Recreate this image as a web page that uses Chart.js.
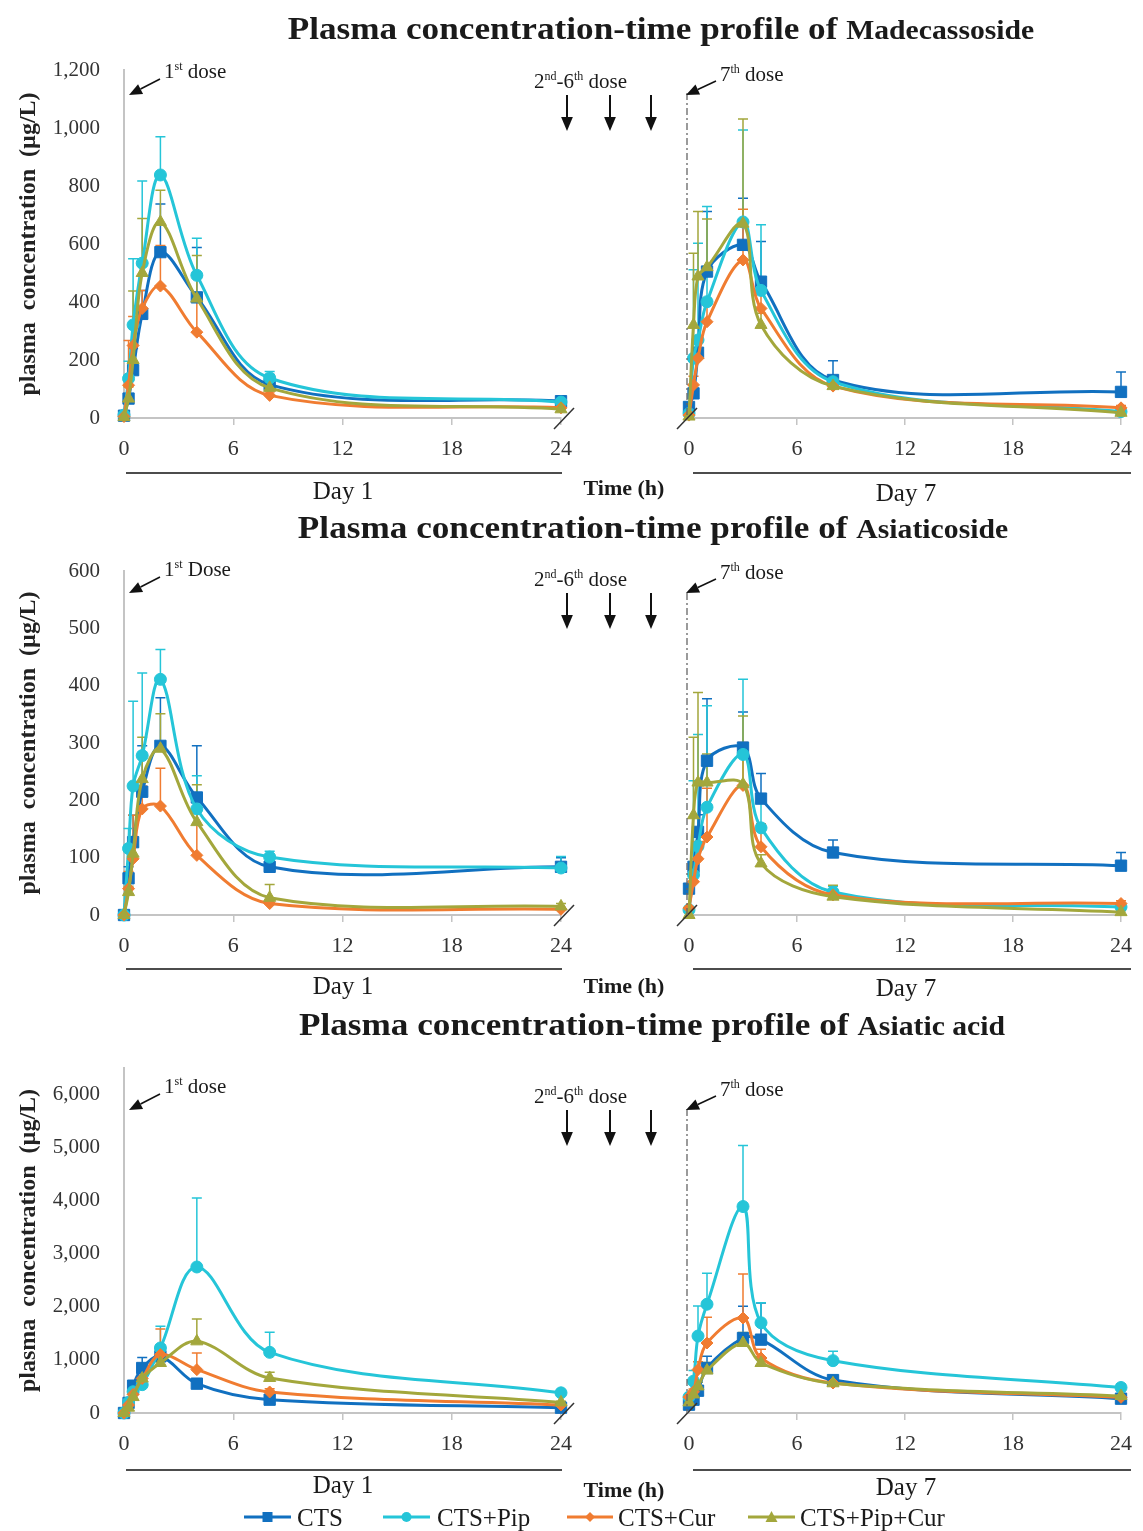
<!DOCTYPE html>
<html>
<head>
<meta charset="utf-8">
<script src="https://cdn.jsdelivr.net/npm/chart.js@4.4.0/dist/chart.umd.min.js"></script>
<style>
  body { margin: 0; background: #fff; width: 1143px; height: 1531px; position: relative; overflow: hidden;
         font-family: 'Liberation Serif', 'Times New Roman', serif; color: #1a1a1a; }
  canvas { position: absolute; }
  #ov { position: absolute; left: 0; top: 0; z-index: 2; }
  .t { position: absolute; white-space: nowrap; line-height: 1; z-index: 3; }
  .title { font-weight: bold; font-size: 32px; transform: translate(-50%, -50%) scaleX(1.1); }
  .title span { font-size: 27px; }
  .note { font-size: 21px; transform: translateY(-50%); }
  .note sup { font-size: 12px; vertical-align: 8px; line-height: 0; }
  .day { font-size: 25px; transform: translate(-50%, -50%); }
  .time { font-size: 22px; font-weight: bold; transform: translate(-50%, -50%); }
  .leg { font-size: 25px; transform: translateY(-50%); }
</style>
</head>
<body>
<svg id="ov" width="1143" height="1531"></svg>
<script>
const hoursDay1 = [0, 0.25, 0.5, 1, 2, 4, 8, 24];
const hoursDay7 = [0, 0.25, 0.5, 1, 3, 4, 8, 24];
const groups = ['CTS', 'CTS+Pip', 'CTS+Cur', 'CTS+Pip+Cur'];

// rows follow the group order: CTS, CTS+Pip, CTS+Cur, CTS+Pip+Cur (µg/L)
const madeDay1 = [
  [8, 67, 165, 359, 572, 416, 115, 58],
  [10, 136, 321, 534, 838, 492, 138, 55],
  [5, 113, 250, 378, 455, 296, 78, 35],
  [3, 67, 200, 500, 676, 412, 104, 30]
];
const madeDay1Sd = [
  [0, 63, 75, 81, 166, 172, 35, 12],
  [0, 60, 228, 283, 132, 128, 22, 10],
  [0, 154, 100, 62, 140, 124, 12, 5],
  [0, 40, 238, 188, 109, 148, 16, 5]
];
const madeDay7 = [
  [38, 85, 225, 505, 597, 470, 131, 90],
  [15, 206, 269, 401, 676, 440, 125, 22],
  [10, 114, 206, 332, 545, 378, 110, 35],
  [5, 321, 488, 520, 670, 321, 110, 18]
];
const madeDay7Sd = [
  [0, 0, 0, 207, 161, 139, 66, 69],
  [0, 305, 334, 328, 317, 226, 20, 8],
  [0, 30, 60, 80, 175, 100, 15, 8],
  [0, 247, 224, 166, 361, 40, 15, 5]
];

const asiaDay1 = [
  [0, 64, 127, 215, 295, 205, 84, 84],
  [0, 116, 225, 278, 411, 185, 101, 82],
  [0, 46, 98, 185, 190, 104, 20, 10],
  [0, 40, 107, 237, 290, 162, 30, 15]
];
const asiaDay1Sd = [
  [0, 20, 47, 80, 84, 90, 11, 16],
  [0, 35, 148, 144, 52, 58, 10, 20],
  [0, 30, 76, 40, 66, 95, 7, 3],
  [0, 10, 30, 73, 61, 65, 23, 5]
];
const asiaDay7 = [
  [46, 84, 145, 269, 292, 203, 109, 86],
  [9, 70, 120, 188, 280, 152, 40, 14],
  [12, 58, 98, 136, 226, 119, 35, 20],
  [0, 174, 231, 231, 228, 90, 32, 5]
];
const asiaDay7Sd = [
  [0, 0, 30, 108, 62, 44, 22, 23],
  [0, 164, 195, 177, 131, 48, 10, 5],
  [0, 20, 30, 85, 75, 40, 8, 5],
  [0, 136, 157, 50, 119, 15, 20, 3]
];

const acidDay1 = [
  [0, 190, 515, 848, 1068, 553, 251, 100],
  [0, 200, 400, 534, 1225, 2751, 1143, 380],
  [0, 150, 350, 650, 1100, 817, 396, 150],
  [0, 100, 300, 650, 942, 1350, 660, 200]
];
const acidDay1Sd = [
  [0, 50, 50, 200, 212, 50, 50, 40],
  [0, 50, 80, 150, 408, 1300, 377, 50],
  [0, 30, 60, 150, 483, 314, 60, 20],
  [0, 30, 60, 100, 300, 421, 106, 20]
];
const acidDay7 = [
  [157, 250, 420, 848, 1413, 1382, 620, 270],
  [300, 600, 1450, 2050, 3890, 1700, 986, 480],
  [300, 400, 817, 1319, 1790, 1036, 565, 295],
  [200, 350, 500, 800, 1319, 942, 560, 320]
];
const acidDay7Sd = [
  [0, 0, 50, 220, 600, 690, 80, 30],
  [0, 200, 565, 584, 1150, 377, 176, 60],
  [0, 50, 150, 484, 829, 164, 50, 30],
  [0, 50, 80, 150, 200, 80, 50, 30]
];

const groupStyles = [
  { color: '#1170c0', point: 'rect', radius: 8 },
  { color: '#25c5d8', point: 'circle', radius: 6 },
  { color: '#f07c31', point: 'rectRot', radius: 6 },
  { color: '#a3a73c', point: 'triangle', radius: 7 }
];

const panels = [
  { name: 'Madecassoside', firstNote: '1<sup>st</sup> dose', yMax: 1200, yStep: 200,
    plotTop: 70, plotBottom: 418, means: [madeDay1, madeDay7], sds: [madeDay1Sd, madeDay7Sd],
    titleX: 661, titleY: 28, noteY: 71, lineY: 473, dayY: 490, timeY: 488, doseLineTop: 23 },
  { name: 'Asiaticoside', firstNote: '1<sup>st</sup> Dose', yMax: 600, yStep: 100,
    plotTop: 571, plotBottom: 915, means: [asiaDay1, asiaDay7], sds: [asiaDay1Sd, asiaDay7Sd],
    titleX: 653, titleY: 527, noteY: 569, lineY: 969, dayY: 985, timeY: 986, doseLineTop: 22 },
  { name: 'Asiatic acid', firstNote: '1<sup>st</sup> dose', yMax: 6500, yStep: 1000,
    plotTop: 1068, plotBottom: 1413, means: [acidDay1, acidDay7], sds: [acidDay1Sd, acidDay7Sd],
    titleX: 652, titleY: 1024, noteY: 1086, lineY: 1470, dayY: 1484, timeY: 1490, doseLineTop: 41 }
];

Chart.defaults.font.family = "'Liberation Serif', 'Times New Roman', serif";

// upward SD bars, the axis break marks and the dashed dose line
const pkMarks = {
  id: 'pkMarks',
  beforeDatasetsDraw(chart) {
    const { ctx, scales: { x, y } } = chart;
    ctx.save();
    ctx.lineWidth = 1.5;
    chart.data.datasets.forEach(ds => {
      ctx.strokeStyle = ds.borderColor;
      ds.data.forEach((p, j) => {
        const sd = ds.sd[j];
        if (!sd) return;
        const px = x.getPixelForValue(p.x);
        const y0 = y.getPixelForValue(p.y);
        const y1 = y.getPixelForValue(p.y + sd);
        ctx.beginPath();
        ctx.moveTo(px, y0);
        ctx.lineTo(px, y1);
        ctx.moveTo(px - 5, y1);
        ctx.lineTo(px + 5, y1);
        ctx.stroke();
      });
    });
    ctx.restore();
  },
  afterDraw(chart, args, opts) {
    const { ctx, chartArea, scales: { x } } = chart;
    const base = chartArea.bottom;
    ctx.save();
    ctx.strokeStyle = '#333';
    ctx.lineWidth = 1.5;
    const bx = x.getPixelForValue(opts.breakAt) + (opts.breakAt === 0 ? -2 : 3);
    ctx.beginPath();
    ctx.moveTo(bx - 10, base + 11);
    ctx.lineTo(bx + 10, base - 10);
    ctx.stroke();
    if (opts.doseLineTop != null) {
      const dx = x.getPixelForValue(0) - 2;
      ctx.strokeStyle = '#666';
      ctx.lineWidth = 1.3;
      ctx.setLineDash([7, 3, 2, 3]);
      ctx.beginPath();
      ctx.moveTo(dx, chartArea.top + opts.doseLineTop);
      ctx.lineTo(dx, base);
      ctx.stroke();
    }
    ctx.restore();
  }
};

function makeChart(panel, dayIdx) {
  const isDay1 = dayIdx === 0;
  const hours = isDay1 ? hoursDay1 : hoursDay7;
  const means = panel.means[dayIdx];
  const sds = panel.sds[dayIdx];
  const padTop = 40, axisH = 45;
  const canvas = document.createElement('canvas');
  canvas.width = isDay1 ? 586 : 474;
  canvas.height = padTop + (panel.plotBottom - panel.plotTop) + axisH;
  canvas.style.left = (isDay1 ? 0 : 669) + 'px';
  canvas.style.top = (panel.plotTop - padTop) + 'px';
  document.body.appendChild(canvas);

  const datasets = groups.map((g, i) => ({
    label: g,
    data: hours.map((h, j) => ({ x: h, y: means[i][j] })),
    sd: sds[i],
    borderColor: groupStyles[i].color,
    backgroundColor: groupStyles[i].color,
    pointStyle: groupStyles[i].point,
    pointRadius: groupStyles[i].radius,
    pointBorderWidth: 1,
    borderWidth: 3,
    tension: 0.35,
    clip: false,
    order: groups.length - 1 - i
  }));

  const yTicks = [];
  for (let v = 0; v <= panel.yMax; v += panel.yStep) yTicks.push({ value: v });

  return new Chart(canvas, {
    type: 'line',
    data: { datasets },
    options: {
      responsive: false,
      animation: false,
      events: [],
      layout: {
        padding: isDay1 ? { left: 0, right: 25, top: padTop, bottom: 0 }
                        : { left: 20, right: 14, top: padTop, bottom: 0 }
      },
      plugins: {
        legend: { display: false },
        tooltip: { enabled: false },
        pkMarks: { breakAt: isDay1 ? 24 : 0, doseLineTop: isDay1 ? null : panel.doseLineTop }
      },
      scales: {
        x: {
          type: 'linear', min: 0, max: 24,
          ticks: { stepSize: 6, padding: 11, color: '#333', font: { size: 22 } },
          grid: {
            drawOnChartArea: false, drawTicks: true, tickLength: 7, lineWidth: 1.5,
            color: c => (c.tick && c.tick.value === 0) ? 'rgba(0,0,0,0)' : '#c4c4c4'
          },
          border: { color: '#c4c4c4', width: 2 },
          afterFit: s => { s.height = axisH; }
        },
        y: {
          display: isDay1,
          min: 0, max: panel.yMax,
          afterBuildTicks: s => { s.ticks = yTicks.map(t => ({ value: t.value })); },
          ticks: {
            autoSkip: false, padding: 24, color: '#333', font: { size: 21 },
            callback: v => v.toLocaleString('en-US')
          },
          grid: { display: false, drawTicks: false },
          border: { color: '#c4c4c4', width: 2 },
          title: {
            display: true, text: 'plasma  concentration  (µg/L)', color: '#222',
            font: { size: 24, weight: 'bold' }, padding: { top: 14, bottom: 0 }
          },
          afterFit: s => { if (isDay1) s.width = 124; }
        }
      }
    },
    plugins: [pkMarks]
  });
}

function addText(cls, html, x, y) {
  const d = document.createElement('div');
  d.className = 't ' + cls;
  d.innerHTML = html;
  d.style.left = x + 'px';
  d.style.top = y + 'px';
  document.body.appendChild(d);
}

const ov = document.getElementById('ov');
const NS = 'http://www.w3.org/2000/svg';
function svgEl(tag, attrs) {
  const e = document.createElementNS(NS, tag);
  for (const k in attrs) e.setAttribute(k, attrs[k]);
  ov.appendChild(e);
  return e;
}
function arrow(x1, y1, x2, y2, head, width) {
  const a = Math.atan2(y2 - y1, x2 - x1);
  const bx = x2 - Math.cos(a) * head, by = y2 - Math.sin(a) * head;
  const nx = -Math.sin(a) * head * 0.42, ny = Math.cos(a) * head * 0.42;
  svgEl('line', { x1, y1, x2: bx, y2: by, stroke: '#111', 'stroke-width': width });
  svgEl('polygon', { points: `${x2},${y2} ${bx + nx},${by + ny} ${bx - nx},${by - ny}`, fill: '#111' });
}

panels.forEach(p => {
  makeChart(p, 0);
  makeChart(p, 1);

  addText('title', 'Plasma concentration-time profile of <span>' + p.name + '</span>', p.titleX, p.titleY);

  // dose annotations
  const n = p.noteY;
  addText('note', p.firstNote, 164, n);
  arrow(160, n + 8, 129, n + 24, 13, 1.5);
  addText('note', '2<sup>nd</sup>-6<sup>th</sup> dose', 534, n + 10);
  [567, 610, 651].forEach(ax => arrow(ax, n + 24, ax, n + 60, 14, 2));
  addText('note', '7<sup>th</sup> dose', 720, n + 3);
  arrow(716, n + 10, 686, n + 24, 13, 1.5);

  // day brackets under the time axes
  svgEl('line', { x1: 126, y1: p.lineY, x2: 562, y2: p.lineY, stroke: '#111', 'stroke-width': 1.5 });
  svgEl('line', { x1: 693, y1: p.lineY, x2: 1131, y2: p.lineY, stroke: '#111', 'stroke-width': 1.5 });
  addText('day', 'Day 1', 343, p.dayY);
  addText('day', 'Day 7', 906, p.dayY + 2);
  addText('time', 'Time (h)', 624, p.timeY);
});

// legend
const legendY = 1517;
const legendItems = [
  { x1: 244, x2: 291, tx: 297 },
  { x1: 383, x2: 430, tx: 437 },
  { x1: 567, x2: 613, tx: 618 },
  { x1: 748, x2: 795, tx: 800 }
];
legendItems.forEach((it, i) => {
  const c = groupStyles[i].color;
  const cx = (it.x1 + it.x2) / 2;
  svgEl('line', { x1: it.x1, y1: legendY, x2: it.x2, y2: legendY, stroke: c, 'stroke-width': 3 });
  if (i === 0) svgEl('rect', { x: cx - 5, y: legendY - 5, width: 10, height: 10, fill: c });
  if (i === 1) svgEl('circle', { cx, cy: legendY, r: 5, fill: c });
  if (i === 2) svgEl('polygon', { points: `${cx},${legendY - 5} ${cx + 5},${legendY} ${cx},${legendY + 5} ${cx - 5},${legendY}`, fill: c });
  if (i === 3) svgEl('polygon', { points: `${cx},${legendY - 6} ${cx + 6},${legendY + 5} ${cx - 6},${legendY + 5}`, fill: c });
  addText('leg', groups[i], it.tx, legendY);
});
</script>
</body>
</html>
